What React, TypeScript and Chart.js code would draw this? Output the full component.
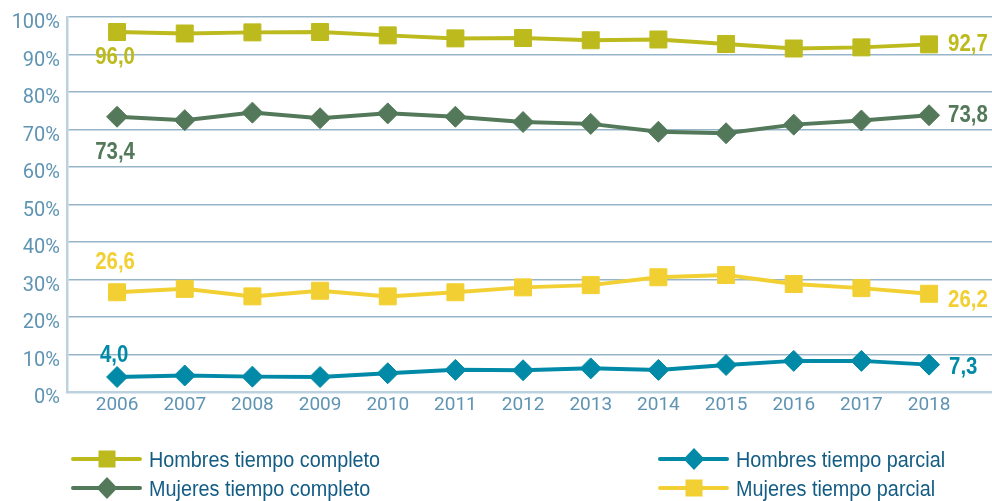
import React, { useEffect, useRef } from 'react';
import { Chart, registerables } from 'chart.js';

Chart.register(...registerables);

const years = [2006, 2007, 2008, 2009, 2010, 2011, 2012, 2013, 2014, 2015, 2016, 2017, 2018];
const hombresCompleto = [96.0, 95.6, 95.9, 96.0, 95.1, 94.3, 94.4, 93.8, 94.0, 92.8, 91.6, 91.9, 92.7];
const mujeresCompleto = [73.4, 72.5, 74.5, 73.0, 74.3, 73.4, 72.0, 71.5, 69.4, 69.0, 71.3, 72.4, 73.8];
const hombresParcial = [4.0, 4.4, 4.1, 4.0, 5.0, 5.9, 5.8, 6.3, 5.9, 7.2, 8.3, 8.3, 7.3];
const mujeresParcial = [26.6, 27.5, 25.5, 27.0, 25.5, 26.6, 27.9, 28.5, 30.6, 31.2, 28.8, 27.7, 26.2];
const yTicks = [0, 10, 20, 30, 40, 50, 60, 70, 80, 90, 100];
const seriesNames = [
  'Hombres tiempo completo',
  'Mujeres tiempo completo',
  'Hombres tiempo parcial',
  'Mujeres tiempo parcial',
];

const OLIVE = '#BDBA1E';
const GREEN = '#53795A';
const TEAL = '#008AA7';
const YELLOW = '#F2D033';
const TICK_COLOR = '#5F94B3';
const GRID_COLOR = '#97B5C8';
const AXIS_COLOR = '#BCD2DF';
const LEGEND_TEXT = '#135C84';
const SANS = '"Liberation Sans", Arial, sans-serif';
const TICK_FONT = 'Roboto, "Liberation Sans", sans-serif';

// label offsets (first point / last point) per series
const labelStyle = [
  { first: { dx: -2, dy: 25 }, last: { dx: 19, dy: 0 } },
  { first: { dx: -2, dy: 36 }, last: { dx: 19, dy: 0 } },
  { first: { dx: -3, dy: -22 }, last: { dx: 20, dy: 3 } },
  { first: { dx: -2, dy: -30 }, last: { dx: 19, dy: 7 } },
];

const legendItems = [
  { ds: 0, x: 73, y: 459 },
  { ds: 1, x: 73, y: 488 },
  { ds: 2, x: 660, y: 459 },
  { ds: 3, x: 660, y: 488 },
];

const fmt = (v: number) => v.toFixed(1).replace('.', ',');

function narrowText(ctx: any, text: string, x: number, y: number, sx: number, align: string) {
  ctx.save();
  ctx.translate(x, y);
  ctx.scale(sx, 1);
  ctx.textAlign = align;
  ctx.fillText(text, 0, 0);
  ctx.restore();
}

const labelsPlugin = {
  id: 'customLabels',
  afterDatasetsDraw(chart: any) {
    const ctx = chart.ctx;
    ctx.save();
    chart.data.datasets.forEach((ds: any, i: number) => {
      const meta = chart.getDatasetMeta(i);
      const pts = meta.data;
      const first = pts[0];
      const last = pts[pts.length - 1];
      const st = labelStyle[i];
      ctx.fillStyle = ds.borderColor;
      ctx.font = `bold 24px ${SANS}`;
      ctx.textBaseline = 'middle';
      narrowText(ctx, fmt(ds.data[0].y), first.x + st.first.dx, first.y + st.first.dy, 0.85, 'center');
      narrowText(ctx, fmt(ds.data[ds.data.length - 1].y), last.x + st.last.dx, last.y + st.last.dy, 0.85, 'left');
    });
    ctx.restore();
  },
  afterDraw(chart: any) {
    const ctx = chart.ctx;
    ctx.save();
    legendItems.forEach((it) => {
      const ds = chart.data.datasets[it.ds];
      const c = ds.borderColor;
      ctx.strokeStyle = c;
      ctx.fillStyle = c;
      ctx.lineWidth = 4;
      ctx.lineCap = 'round';
      ctx.beginPath();
      ctx.moveTo(it.x, it.y);
      ctx.lineTo(it.x + 67, it.y);
      ctx.stroke();
      const cx = it.x + 34;
      if (ds.pointStyle === 'rect') {
        ctx.fillRect(cx - 8.5, it.y - 8.5, 17, 17);
      } else {
        ctx.beginPath();
        ctx.moveTo(cx, it.y - 11);
        ctx.lineTo(cx + 10.5, it.y);
        ctx.lineTo(cx, it.y + 11);
        ctx.lineTo(cx - 10.5, it.y);
        ctx.closePath();
        ctx.fill();
      }
      ctx.fillStyle = LEGEND_TEXT;
      ctx.font = `22px ${SANS}`;
      ctx.textBaseline = 'alphabetic';
      narrowText(ctx, ds.label, it.x + 76, it.y + 8, 0.9, 'left');
    });
    ctx.restore();
  },
};

function makeDs(label: string, values: number[], color: string, style: string, radius: number) {
  return {
    label,
    data: years.map((x, i) => ({ x, y: values[i] })),
    borderColor: color,
    backgroundColor: color,
    borderWidth: 4,
    pointStyle: style,
    pointRadius: radius,
    pointHoverRadius: radius,
    pointBackgroundColor: color,
    pointBorderColor: color,
    pointBorderWidth: 1,
    tension: 0,
    clip: false,
  };
}

export default function App() {
  const ref = useRef<HTMLCanvasElement | null>(null);
  useEffect(() => {
    document.body.style.margin = '0';
    const canvas = ref.current;
    if (!canvas) return;
    const chart = new Chart(canvas, {
      type: 'line',
      data: {
        datasets: [
          makeDs(seriesNames[0], hombresCompleto, OLIVE, 'rect', 12),
          makeDs(seriesNames[1], mujeresCompleto, GREEN, 'rectRot', 10.5),
          makeDs(seriesNames[2], hombresParcial, TEAL, 'rectRot', 10.5),
          makeDs(seriesNames[3], mujeresParcial, YELLOW, 'rect', 12),
        ] as any,
      },
      options: {
        animation: false,
        responsive: false,
        maintainAspectRatio: false,
        layout: { autoPadding: false, padding: { top: 17, right: 0, bottom: 0, left: 0 } },
        plugins: {
          legend: { display: false },
          tooltip: { enabled: false },
        },
        scales: {
          x: {
            type: 'linear',
            min: 2005.26,
            max: 2018.93,
            afterBuildTicks: (axis: any) => {
              axis.ticks = years.map((v) => ({ value: v }));
            },
            afterFit: (scale: any) => {
              scale.height = 109;
              scale.paddingLeft = 0;
              scale.paddingRight = 0;
            },
            grid: { display: false, drawTicks: false },
            border: { display: true, color: AXIS_COLOR, width: 2.5 },
            ticks: {
              color: TICK_COLOR,
              font: { family: TICK_FONT, size: 19 },
              padding: 2,
              maxRotation: 0,
              autoSkip: false,
              callback: (v: any) => String(v),
            },
          },
          y: {
            min: 0,
            max: 100,
            afterBuildTicks: (axis: any) => {
              axis.ticks = yTicks.map((v) => ({ value: v }));
            },
            afterFit: (scale: any) => {
              scale.width = 67;
              scale.paddingTop = 0;
              scale.paddingBottom = 0;
            },
            grid: { color: GRID_COLOR, lineWidth: 1.5, drawTicks: false },
            border: { display: true, color: AXIS_COLOR, width: 2.5 },
            ticks: {
              color: TICK_COLOR,
              font: { family: TICK_FONT, size: 20 },
              padding: 7,
              labelOffset: 6,
              callback: (v: any) => v + '%',
            },
          },
        },
      } as any,
      plugins: [labelsPlugin],
    });
    return () => chart.destroy();
  }, []);
  return (
    <div style={{ width: 992, height: 501, background: '#fff' }}>
      <canvas ref={ref} width={992} height={501} style={{ display: 'block', width: 992, height: 501 }} />
    </div>
  );
}
